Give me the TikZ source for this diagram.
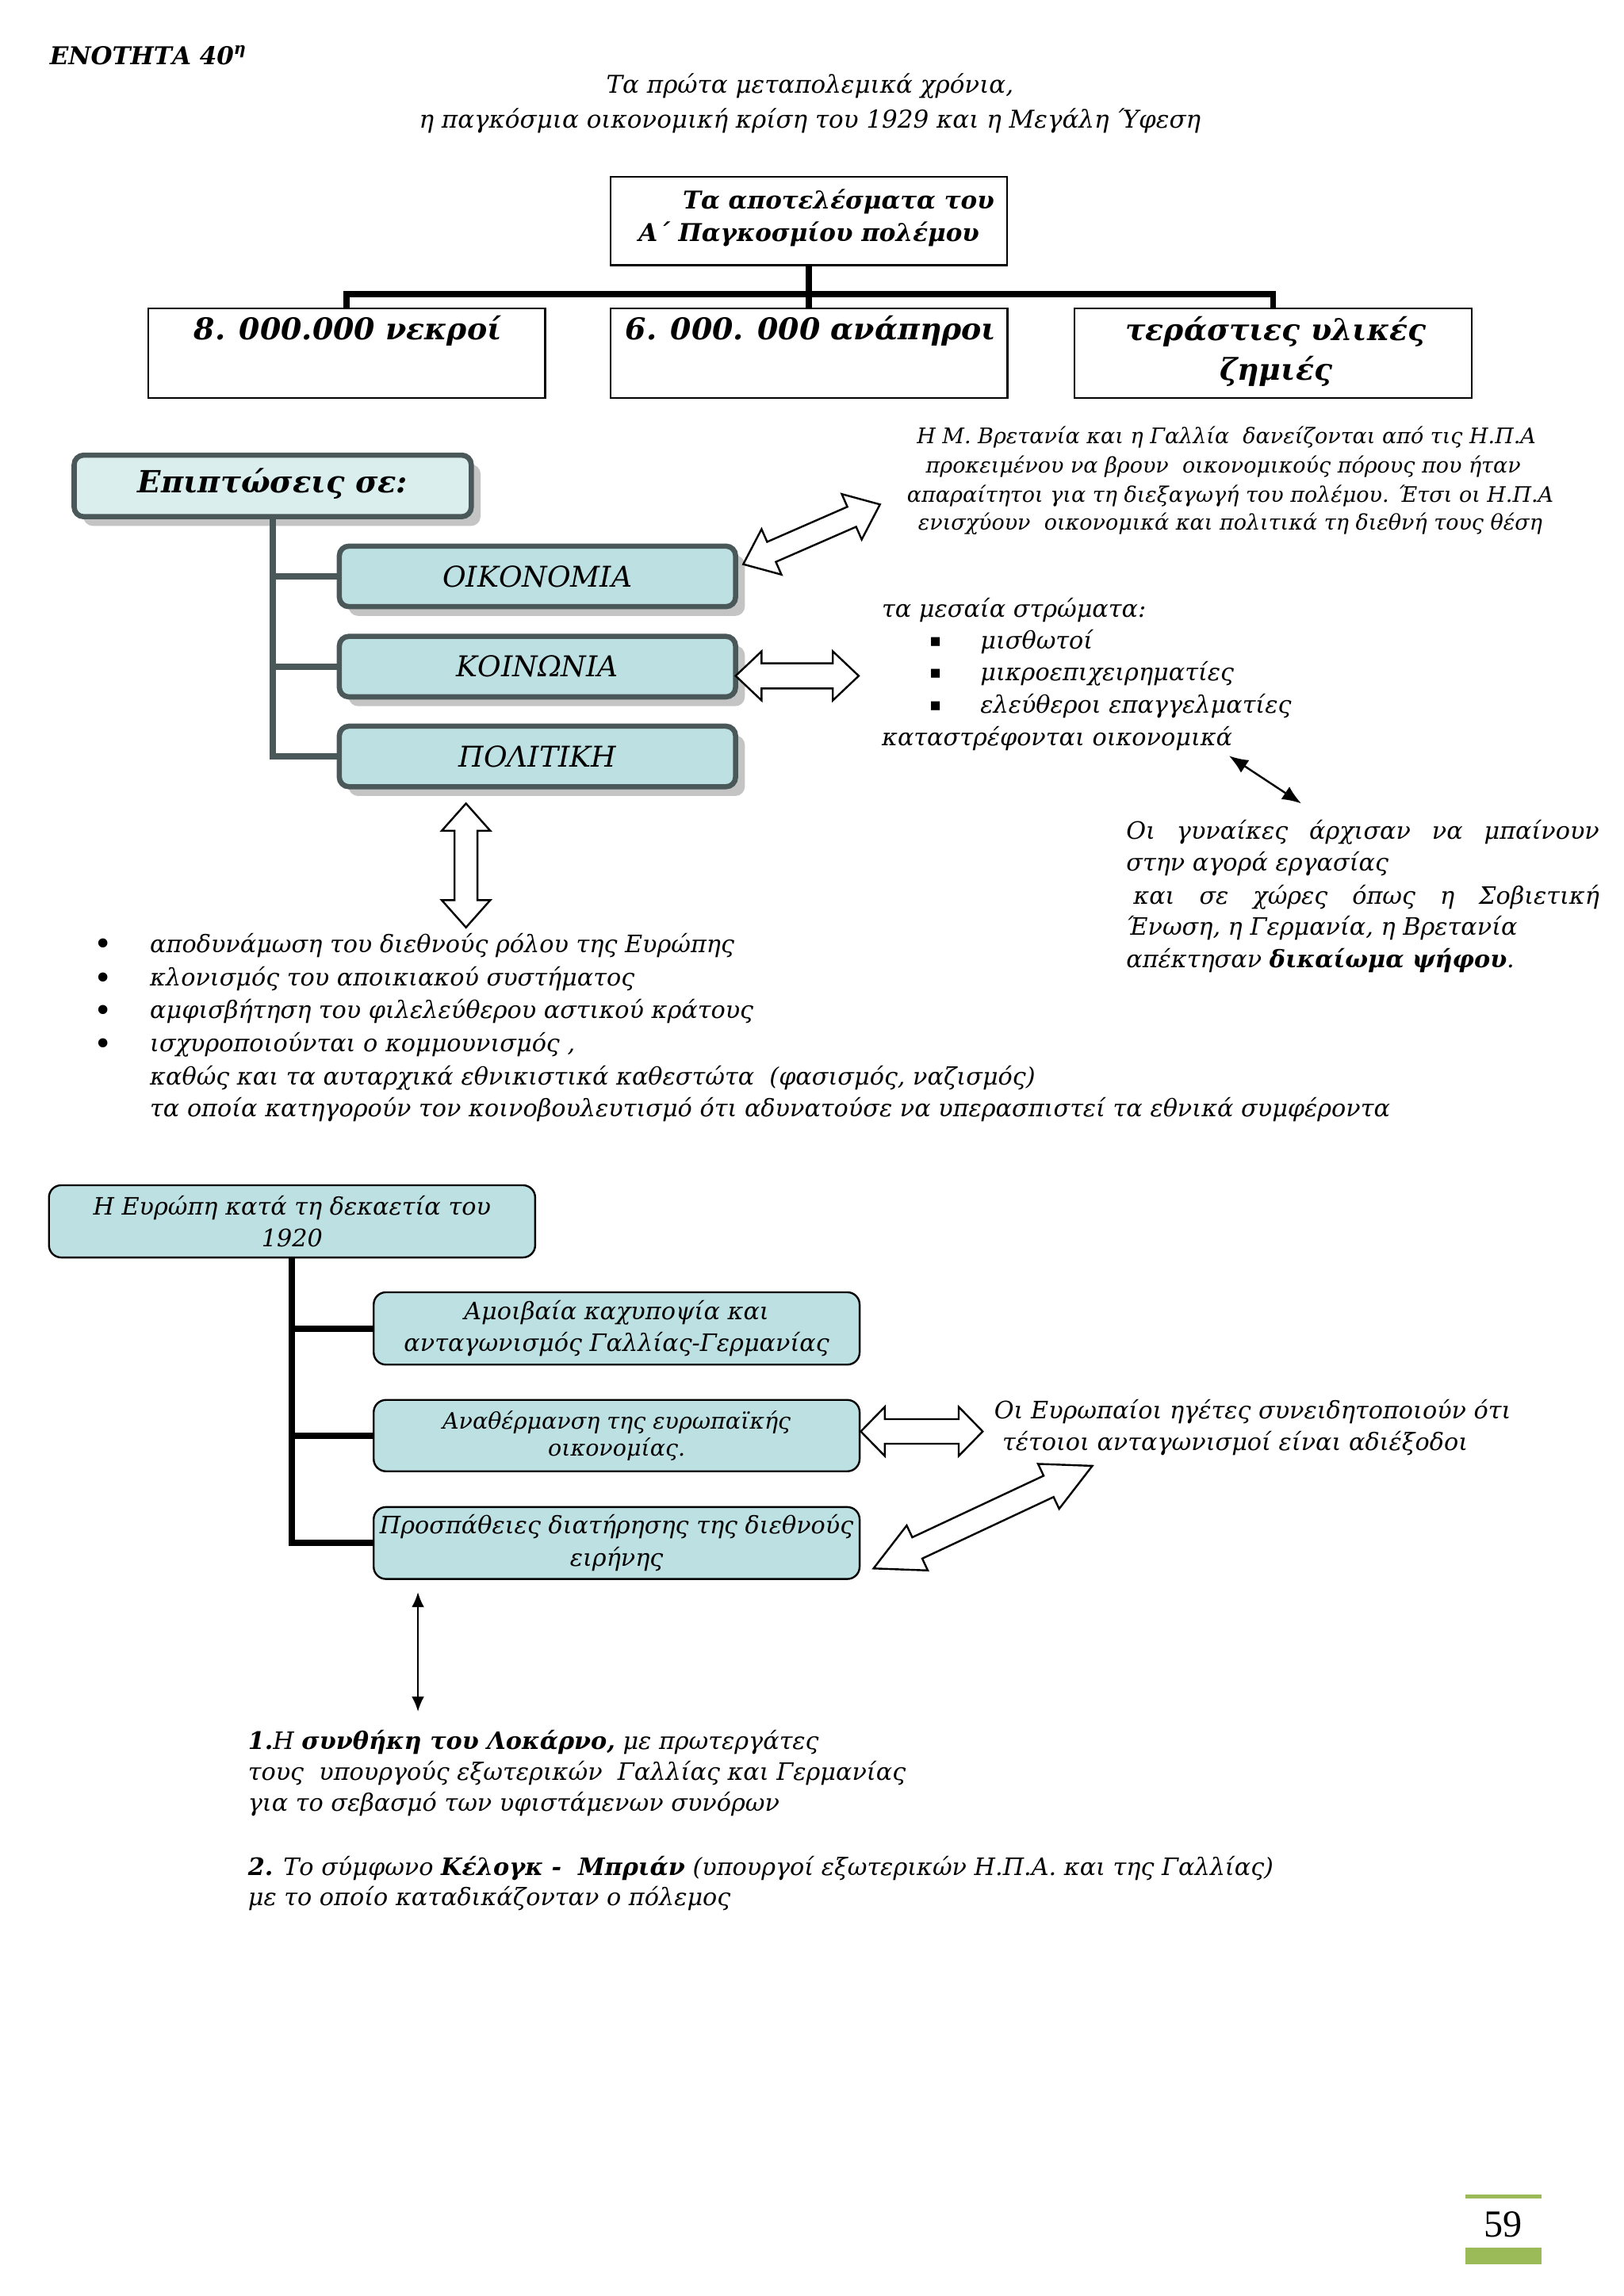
\documentclass[tikz,border=0pt]{standalone}
\usepackage{fontspec}
\setmainfont{DejaVu Serif}
\newfontfamily\symfont{DejaVu Sans}
\newfontfamily\numfont{Liberation Serif}
\usetikzlibrary{calc,shadows,arrows.meta}
\definecolor{teal1}{HTML}{BDE0E3}
\definecolor{teal2}{HTML}{DAEEEE}
\definecolor{slate}{HTML}{4A5859}
\definecolor{shad}{HTML}{C4C4C4}
\definecolor{pgreen}{HTML}{9BBB59}
\newdimen\du \du=0.5372pt
\newcommand{\fs}[1]{\fontsize{#1}{#1}\selectfont}
\newcommand{\dblarrow}[5]{%
  \draw[blockarrow] (#1)
   -- ($(#1)!#5!(#2)!#4!90:(#2)$)
   -- ($(#1)!#5!(#2)!#3!90:(#2)$)
   -- ($(#2)!#5!(#1)!#3!270:(#1)$)
   -- ($(#2)!#5!(#1)!#4!270:(#1)$)
   -- (#2)
   -- ($(#2)!#5!(#1)!#4!90:(#1)$)
   -- ($(#2)!#5!(#1)!#3!90:(#1)$)
   -- ($(#1)!#5!(#2)!#3!270:(#2)$)
   -- ($(#1)!#5!(#2)!#4!270:(#2)$)
   -- cycle;}
\begin{document}
\begin{tikzpicture}[x=0.5372pt, y=-0.5372pt,
  txt/.style={inner sep=0pt, outer sep=0pt},
  it/.style={txt, font=\itshape\fs{8.8}},
  bi/.style={txt, font=\bfseries\itshape\fs{#1}},
  plainbox/.style={draw=black, line width=0.65pt, fill=white, inner sep=0pt},
  slatebox/.style={draw=slate, line width=1.9pt, rounded corners=3.5pt, fill=teal1, inner sep=0pt,
     drop shadow={shadow xshift=3.4pt, shadow yshift=-3.4pt, fill=shad, opacity=1}, font=\itshape\fs{10.5}},
  tealbox/.style={draw=black, line width=0.7pt, rounded corners=4.5pt, fill=teal1, inner sep=0pt, align=center},
  blockarrow/.style={draw=black, line width=0.7pt, fill=white, line join=miter},
  thinarrow/.style={line width=0.7pt, {Latex[length=7pt,width=5.5pt]}-{Latex[length=7pt,width=5.5pt]}},
  thinarrowb/.style={line width=0.6pt, {Latex[length=5.5pt,width=4.6pt]}-{Latex[length=5.5pt,width=4.6pt]}},
  treeline/.style={line width=2.1pt, line join=miter},
]
\fill[white] (0,0) rectangle (1108.2,1567.1);
\useasboundingbox (0,0) rectangle (1108.2,1567.1);

% header
\node[bi=9, anchor=base west] (title) at (34,44.2) {ΕΝΟΤΗΤΑ 40\textsuperscript{η}};
\node[txt, font=\itshape\fs{9}, anchor=base] (sub1) at (552.7,63.5) {Τα πρώτα μεταπολεμικά χρόνια,};
\node[txt, font=\itshape\fs{9}, anchor=base] (sub2) at (552.7,87.5) {η παγκόσμια οικονομική κρίση του 1929 και η Μεγάλη Ύφεση};

% top tree
\node[plainbox, minimum width=270.5\du, minimum height=60.5\du] (top) at (552,150.75) {};
\node[bi=9, anchor=base] (topt1) at (572.2,142.5) {Τα αποτελέσματα του};
\node[bi=9, anchor=base] (topt2) at (552,165) {Α΄ Παγκοσμίου πολέμου};
\node[plainbox, minimum width=271\du, minimum height=60.8\du] (b1) at (236.5,241.1) {};
\node[plainbox, minimum width=271\du, minimum height=60.8\du] (b2) at (552,241.1) {};
\node[plainbox, minimum width=271\du, minimum height=60.8\du] (b3) at (868.75,241.1) {};
\node[bi=11, anchor=base] (b1t) at (237.4,231.8) {8. 000.000 νεκροί};
\node[bi=11, anchor=base] (b2t) at (553.3,231.8) {6. 000. 000 ανάπηροι};
\node[bi=11, anchor=base] (b3t) at (870.7,232.5) {τεράστιες υλικές};
\node[bi=11, anchor=base] (b3u) at (870.7,259.7) {ζημιές};
\draw[treeline] (top.south) -- (b2.north);
\draw[treeline] (b1.north) -- ([yshift=5pt]b1.north) -- ([yshift=5pt]b3.north) -- (b3.north);

% Epiptoseis tree
\node[slatebox, fill=teal2, minimum width=271\du, minimum height=42\du] (epi) at (186.1,331.65) {};
\node[bi=11.2, anchor=base] (epit) at (186.1,336.4) {Επιπτώσεις σε:};
\node[slatebox, minimum width=270.4\du, minimum height=41.3\du] (oiko) at (366.75,393.4) {ΟΙΚΟΝΟΜΙΑ};
\node[slatebox, minimum width=270.4\du, minimum height=41.3\du] (koin) at (366.75,455) {ΚΟΙΝΩΝΙΑ};
\node[slatebox, minimum width=270.4\du, minimum height=41.3\du] (poli) at (366.75,516.3) {ΠΟΛΙΤΙΚΗ};
\draw[slate, line width=2.2pt] (epi.south) |- (oiko.west);
\draw[slate, line width=2.2pt] (epi.south) |- (koin.west);
\draw[slate, line width=2.2pt] (epi.south) |- (poli.west);

% top right text
\node[txt, font=\itshape\fs{7.85}, anchor=base] (n1) at (836.9,303) {Η Μ. Βρετανία και η Γαλλία \ δανείζονται από τις Η.Π.Α};
\node[txt, font=\itshape\fs{7.85}, anchor=base] (n2) at (834.8,322.9) {προκειμένου να βρουν \ οικονομικούς πόρους που ήταν};
\node[txt, font=\itshape\fs{7.85}, anchor=base] (n3) at (839.6,342.7) {απαραίτητοι για τη διεξαγωγή του πολέμου. Έτσι οι Η.Π.Α};
\node[txt, font=\itshape\fs{7.85}, anchor=base] (n4) at (839.5,361.7) {ενισχύουν \ οικονομικά και πολιτικά τη διεθνή τους θέση};

\coordinate (oa1) at (507.2,385.1);
\coordinate (oa2) at (600.5,344.3);
\dblarrow{oa1}{oa2}{4pt}{9.1pt}{11.3pt}
\coordinate (ka1) at (502,461.3);
\coordinate (ka2) at (586,461.3);
\dblarrow{ka1}{ka2}{4.6pt}{9pt}{9.5pt}
\coordinate (pa1) at (318,548.4);
\coordinate (pa2) at (318,633);
\dblarrow{pa1}{pa2}{4.2pt}{8.9pt}{10pt}

% middle list
\node[it, anchor=base west] (m0) at (601.8,421.2) {τα μεσαία στρώματα:};
\node[txt, font=\symfont\fs{6.5}] (mb1) at (638.4,438) {▪};
\node[txt, font=\symfont\fs{6.5}] (mb2) at (638.4,459.7) {▪};
\node[txt, font=\symfont\fs{6.5}] (mb3) at (638.4,482.2) {▪};
\node[it, anchor=base west] (m1) at (669,442.8) {μισθωτοί};
\node[it, anchor=base west] (m2) at (669,464.5) {μικροεπιχειρηματίες};
\node[it, anchor=base west] (m3) at (669,487) {ελεύθεροι επαγγελματίες};
\node[it, anchor=base west] (m4) at (601.8,508.7) {καταστρέφονται οικονομικά};
\coordinate (ta1) at (838.7,515.9);
\coordinate (ta2) at (888,548.4);
\draw[thinarrow] (ta1) -- (ta2);

% women
\node[it, anchor=base west] (w1) at (768.6,572.7) {\makebox[173.4pt][s]{Οι γυναίκες άρχισαν να μπαίνουν}};
\node[it, anchor=base west] (w2) at (768.6,594.6) {στην αγορά εργασίας};
\node[it, anchor=base west] (w3) at (773.5,616.9) {\makebox[170.8pt][s]{και σε χώρες όπως η Σοβιετική}};
\node[it, anchor=base west] (w4) at (768.6,638.5) {Ένωση, η Γερμανία, η Βρετανία};
\node[it, anchor=base west] (w5) at (768.6,660.3) {απέκτησαν \textbf{δικαίωμα ψήφου}.};

% bullets
\node[txt, font=\fs{11.5}] (bu1) at (70.6,646.3) {•};
\node[txt, font=\fs{11.5}] (bu2) at (70.6,669.3) {•};
\node[txt, font=\fs{11.5}] (bu3) at (70.6,691.6) {•};
\node[txt, font=\fs{11.5}] (bu4) at (70.6,714.3) {•};
\node[it, anchor=base west] (p1) at (102.4,650) {αποδυνάμωση του διεθνούς ρόλου της Ευρώπης};
\node[it, anchor=base west] (p2) at (102.4,673) {κλονισμός του αποικιακού συστήματος};
\node[it, anchor=base west] (p3) at (102.4,695.3) {αμφισβήτηση του φιλελεύθερου αστικού κράτους};
\node[it, anchor=base west] (p4) at (102.4,718) {ισχυροποιούνται ο κομμουνισμός ,};
\node[it, anchor=base west] (p5) at (102.4,740.3) {καθώς και τα αυταρχικά εθνικιστικά καθεστώτα \ (φασισμός, ναζισμός)};
\node[it, anchor=base west] (p6) at (102.4,762.3) {τα οποία κατηγορούν τον κοινοβουλευτισμό ότι αδυνατούσε να υπερασπιστεί τα εθνικά συμφέροντα};

% Europe tree
\node[tealbox, font=\itshape\fontsize{8.8}{11.6}\selectfont, minimum width=331.8\du, minimum height=49.3\du] (eur) at (199.3,833.6) {Η Ευρώπη κατά τη δεκαετία του\\1920};
\node[tealbox, font=\itshape\fontsize{8.8}{11.9}\selectfont, minimum width=331.6\du, minimum height=49.4\du] (s1) at (420.8,906.7) {Αμοιβαία καχυποψία και\\ανταγωνισμός Γαλλίας-Γερμανίας};
\node[tealbox, font=\itshape\fontsize{8.3}{9.9}\selectfont, minimum width=331.6\du, minimum height=48.7\du] (s2) at (420.8,979.85) {Αναθέρμανση της ευρωπαϊκής\\οικονομίας.};
\node[tealbox, font=\itshape\fontsize{8.8}{11.9}\selectfont, minimum width=331.6\du, minimum height=49.1\du] (s3) at (420.8,1053.15) {Προσπάθειες διατήρησης της διεθνούς\\ειρήνης};
\draw[line width=2.3pt] (eur.south) |- (s1.west);
\draw[line width=2.3pt] (eur.south) |- (s2.west);
\draw[line width=2.3pt] (eur.south) |- (s3.west);

\node[it, anchor=base west] (e1) at (678.5,968.6) {Οι Ευρωπαίοι ηγέτες συνειδητοποιούν ότι};
\node[it, anchor=base west] (e2) at (684,990.2) {τέτοιοι ανταγωνισμοί είναι αδιέξοδοι};
\coordinate (ha1) at (587.4,977);
\coordinate (ha2) at (670.6,977);
\dblarrow{ha1}{ha2}{4.5pt}{9pt}{8.8pt}
\coordinate (da1) at (596.1,1070.5);
\coordinate (da2) at (745.4,1000.5);
\dblarrow{da1}{da2}{4.3pt}{9.1pt}{17.7pt}

\coordinate (va1) at (285.2,1086.7);
\coordinate (va2) at (285.2,1168.2);
\draw[thinarrowb] (va1) -- (va2);

% bottom text
\node[it, anchor=base west] (l1) at (169.3,1194) {\textbf{1.}Η \textbf{συνθήκη του Λοκάρνο,} με πρωτεργάτες};
\node[it, anchor=base west] (l2) at (169.3,1215) {τους \ υπουργούς εξωτερικών \ Γαλλίας και Γερμανίας};
\node[it, anchor=base west] (l3) at (169.3,1236.3) {για το σεβασμό των υφιστάμενων συνόρων};
\node[it, anchor=base west] (l4) at (169.3,1279.8) {\textbf{2.} Το σύμφωνο \textbf{Κέλογκ - \ Μπριάν} (υπουργοί εξωτερικών Η.Π.Α. και της Γαλλίας)};
\node[it, anchor=base west] (l5) at (169.3,1300.5) {με το οποίο καταδικάζονταν ο πόλεμος};

% page number
\fill[pgreen] (1000,1498) rectangle (1052,1500.6);
\fill[pgreen] (1000,1534) rectangle (1052,1545.6);
\node[txt, font=\numfont\fs{14}, anchor=base] (pg) at (1025.8,1527) {59};
\end{tikzpicture}
\end{document}
